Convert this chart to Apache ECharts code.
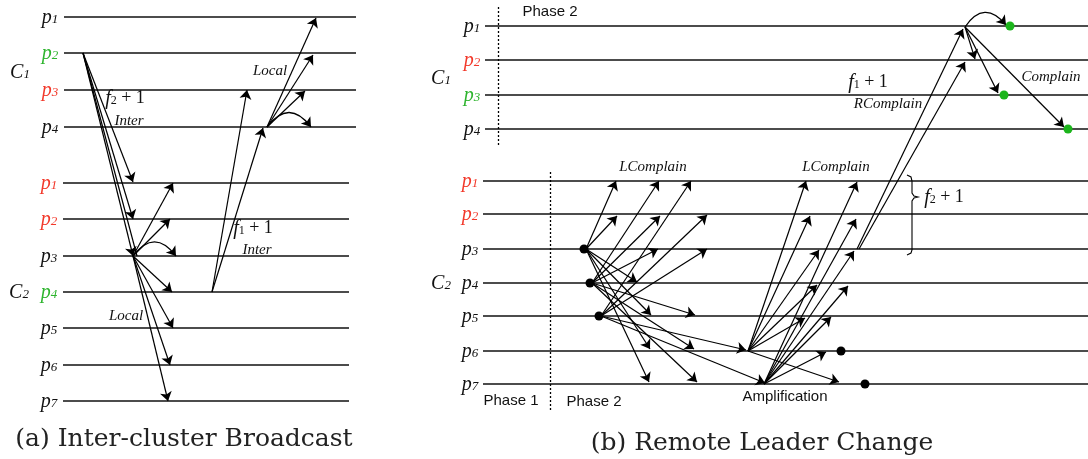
<!DOCTYPE html>
<html>
<head>
<meta charset="utf-8">
<script src="https://cdn.jsdelivr.net/npm/echarts@6/dist/echarts.min.js"></script>
<style>
  html, body { margin: 0; padding: 0; background: #fff; }
  #chart { width: 1088px; height: 459px; }
</style>
</head>
<body>
<div id="chart"></div>
<script>
// colours of the process names
var RED = '#f2382a';
var GREEN = '#2db42d';
var BLK = '#111';

// ---- panel (a) Inter-cluster Broadcast ----
var aC1Y = [17, 53, 90, 127];
var aC1X = [64, 356];
var aC1Names = ['1', '2', '3', '4'];
var aC1Colors = [BLK, GREEN, RED, BLK];
var aC2Y = [183, 219, 256, 292, 328, 365, 401];
var aC2X = [63, 349];
var aC2Names = ['1', '2', '3', '4', '5', '6', '7'];
var aC2Colors = [RED, RED, BLK, GREEN, BLK, BLK, BLK];
var aLabelX = 49;

// arrows [x1, y1, x2, y2]
var aArrows = [
  [83, 53, 133, 182], [83, 53, 133, 219], [83, 53, 133, 256],
  [133, 256, 173, 183], [133, 256, 170, 219], [133, 256, 172, 292],
  [133, 256, 173, 328], [133, 256, 170, 365], [133, 256, 168, 401],
  [212, 292, 247, 90], [212, 292, 263, 128],
  [267, 127, 316, 18], [267, 127, 313, 55], [267, 127, 305, 91]
];
var aPlain = [[83, 53, 137, 256]];
var aLoops = [[133, 256, 176, 256], [267, 127, 311, 127]];

// ---- panel (b) Remote Leader Change ----
var bC1Y = [26, 60, 95, 129];
var bC1X = [485, 1088];
var bC1Colors = [BLK, RED, GREEN, BLK];
var bC2Y = [181, 214, 249, 283, 316, 351, 384];
var bC2X = [483, 1088];
var bC2Colors = [RED, RED, BLK, BLK, BLK, BLK, BLK];
var bLabelX1 = 472;
var bLabelX2 = 470;

var bArrows = [
  // LComplain from p3, p4, p5
  [586, 249, 616, 181], [586, 249, 617, 216], [586, 249, 637, 282],
  [586, 249, 651, 315], [586, 249, 650, 349], [586, 249, 649, 382],
  [592, 283, 659, 181], [592, 283, 660, 216], [592, 283, 658, 249],
  [592, 283, 695, 315], [592, 283, 694, 349], [592, 283, 697, 382],
  [601, 316, 691, 181], [601, 316, 707, 215], [601, 316, 707, 249],
  [601, 316, 746, 350], [601, 316, 765, 383],
  // amplification from p6, p7
  [748, 351, 806, 181], [748, 351, 810, 216], [748, 351, 819, 250],
  [748, 351, 817, 285], [748, 351, 805, 318], [748, 351, 839, 382],
  [764, 384, 857, 182], [764, 384, 856, 219], [764, 384, 854, 251],
  [764, 384, 848, 286], [764, 384, 831, 317], [764, 384, 826, 352],
  // RComplain to C1
  [857, 249, 963, 29], [859, 249, 965, 62],
  // Complain inside C1
  [965, 27, 975, 59], [965, 27, 998, 93], [965, 27, 1064, 127]
];
var bLoops = [[965, 27, 1006, 25]];
var bDots = [[584, 249], [590, 283], [599, 316], [841, 351], [865, 384]];
var bGreenDots = [[1010, 26], [1004, 95], [1068, 129]];
var bDashed = [[498, 7, 498, 147], [550, 172, 550, 410]];
var bBrace = [[907, 175], [911, 177], [912, 181], [912, 193], [914, 196], [918, 197],
  [914, 198], [912, 201], [912, 250], [911, 253], [907, 255]];

// free text [x, y, text, style]
var texts = [
  [20, 72, 'C1', 'proc'], [19, 292, 'C2', 'proc'],
  [125, 98, 'f2 + 1', 'math'], [129, 121, 'Inter', 'it'],
  [270, 71, 'Local', 'it'], [126, 316, 'Local', 'it'],
  [253, 228, 'f1 + 1', 'math'], [257, 250, 'Inter', 'it'],
  [184, 439, '(a) Inter-cluster Broadcast', 'cap'],
  [441, 78, 'C1', 'proc'], [441, 283, 'C2', 'proc'],
  [550, 12, 'Phase 2', 'sans'], [511, 401, 'Phase 1', 'sans'],
  [594, 402, 'Phase 2', 'sans'], [785, 397, 'Amplification', 'sans'],
  [653, 167, 'LComplain', 'it'], [836, 167, 'LComplain', 'it'],
  [868, 82, 'f1 + 1', 'math'], [888, 104, 'RComplain', 'it'],
  [1051, 77, 'Complain', 'it'], [944, 197, 'f2 + 1', 'math'],
  [762, 443, '(b) Remote Leader Change', 'cap']
];

var SERIF = 'Liberation Serif';
var rich = {
  i: { fontFamily: SERIF, fontStyle: 'italic', fontSize: 20, lineHeight: 18, verticalAlign: 'top' },
  s: { fontFamily: SERIF, fontStyle: 'italic', fontSize: 13, lineHeight: 12, padding: [9, 0, 0, 0], verticalAlign: 'bottom' },
  d: { fontFamily: SERIF, fontSize: 12, lineHeight: 12, padding: [9, 0, 0, 0], verticalAlign: 'bottom' },
  n: { fontFamily: SERIF, fontSize: 18, lineHeight: 18, verticalAlign: 'top' }
};

function seg(a) { return { coords: [[a[0], a[1]], [a[2], a[3]]] }; }

function procLabel(x, y, sub, color) {
  return { value: [x, y], label: { formatter: '{i|p}{s|' + sub + '}', color: color } };
}

var labelData = [];
aC1Y.forEach(function (y, k) { labelData.push(procLabel(aLabelX + 1, y, aC1Names[k], aC1Colors[k])); });
aC2Y.forEach(function (y, k) { labelData.push(procLabel(aLabelX, y, aC2Names[k], aC2Colors[k])); });
bC1Y.forEach(function (y, k) { labelData.push(procLabel(bLabelX1, y, String(k + 1), bC1Colors[k])); });
bC2Y.forEach(function (y, k) { labelData.push(procLabel(bLabelX2, y, String(k + 1), bC2Colors[k])); });

texts.forEach(function (t) {
  var lab = { color: BLK };
  if (t[3] === 'proc') {
    lab.formatter = '{i|' + t[2][0] + '}{s|' + t[2].slice(1) + '}';
  } else if (t[3] === 'math') {
    lab.formatter = '{i|' + t[2][0] + '}{d|' + t[2][1] + '}{n|' + t[2].slice(2) + '}';
  } else if (t[3] === 'it') {
    lab.formatter = t[2];
    lab.fontFamily = SERIF; lab.fontStyle = 'italic'; lab.fontSize = 15;
  } else if (t[3] === 'sans') {
    lab.formatter = t[2];
    lab.fontFamily = 'Liberation Sans'; lab.fontSize = 15;
  } else {
    lab.formatter = t[2];
    lab.fontFamily = 'DejaVu Serif'; lab.fontSize = 25; lab.color = '#222';
  }
  labelData.push({ value: [t[0], t[1]], label: lab });
});

var hLines = [];
aC1Y.forEach(function (y) { hLines.push(seg([aC1X[0], y, aC1X[1], y])); });
aC2Y.forEach(function (y) { hLines.push(seg([aC2X[0], y, aC2X[1], y])); });
bC1Y.forEach(function (y) { hLines.push(seg([bC1X[0], y, bC1X[1], y])); });
bC2Y.forEach(function (y) { hLines.push(seg([bC2X[0], y, bC2X[1], y])); });

var chart = echarts.init(document.getElementById('chart'));
chart.setOption({
  animation: false,
  backgroundColor: '#fff',
  grid: { left: 0, right: 0, top: 0, bottom: 0 },
  xAxis: { type: 'value', min: 0, max: 1088, show: false },
  yAxis: { type: 'value', min: 0, max: 459, inverse: true, show: false },
  series: [
    {
      type: 'lines', coordinateSystem: 'cartesian2d', silent: true,
      symbol: 'none', lineStyle: { color: BLK, width: 1.7, opacity: 1 },
      data: hLines
    },
    {
      type: 'lines', coordinateSystem: 'cartesian2d', silent: true,
      symbol: 'none', lineStyle: { color: '#000', width: 1.3, type: [2, 2], opacity: 1 },
      data: bDashed.map(seg)
    },
    {
      type: 'lines', coordinateSystem: 'cartesian2d', silent: true,
      symbol: ['none', 'arrow'], symbolSize: [8, 9],
      lineStyle: { color: '#000', width: 1.2, opacity: 1 },
      data: aArrows.concat(bArrows).map(seg)
    },
    {
      type: 'lines', coordinateSystem: 'cartesian2d', silent: true,
      symbol: 'none', lineStyle: { color: '#000', width: 1.2, opacity: 1 },
      data: aPlain.map(seg)
    },
    {
      type: 'lines', coordinateSystem: 'cartesian2d', silent: true,
      symbol: ['none', 'arrow'], symbolSize: [8, 9],
      lineStyle: { color: '#000', width: 1.3, opacity: 1, curveness: 0.66 },
      data: aLoops.concat(bLoops).map(seg)
    },
    {
      type: 'lines', coordinateSystem: 'cartesian2d', silent: true, polyline: true,
      symbol: 'none', lineStyle: { color: '#000', width: 1.1, opacity: 1 },
      data: [{ coords: bBrace }]
    },
    {
      type: 'scatter', silent: true, symbolSize: 9,
      itemStyle: { color: '#000', opacity: 1 }, data: bDots
    },
    {
      type: 'scatter', silent: true, symbolSize: 9,
      itemStyle: { color: '#1cb51c', opacity: 1 }, data: bGreenDots
    },
    {
      type: 'scatter', silent: true, symbolSize: 0,
      itemStyle: { opacity: 1 },
      label: { show: true, position: 'inside', rich: rich, opacity: 1, textBorderWidth: 0 },
      data: labelData
    }
  ]
});
</script>
</body>
</html>
